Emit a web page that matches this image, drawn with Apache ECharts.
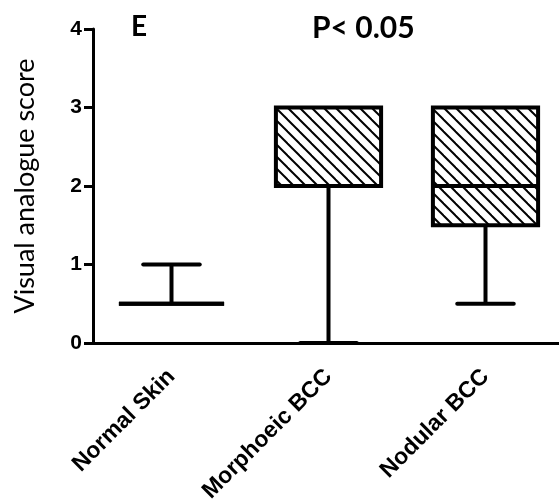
<!DOCTYPE html>
<html>
<head>
<meta charset="utf-8">
<script src="https://cdn.jsdelivr.net/npm/echarts@6/dist/echarts.min.js"></script>
<style>
html,body{margin:0;padding:0;background:#fff;}
#chart{width:559px;height:500px;}
</style>
</head>
<body>
<div id="chart"></div>
<script>
// ---- data ----
const categories = ['Normal Skin', 'Morphoeic BCC', 'Nodular BCC'];
const minVals    = [0.5, 0,   0.5];
const q1Vals     = [0.5, 2,   1.5];
const medianVals = [0.5, 2,   2];
const q3Vals     = [0.5, 3,   3];
const maxVals    = [1,   3,   3];
const yTicks     = [0, 1, 2, 3, 4];
const yAxisName  = 'Visual analogue score';
const panelLabel = 'E';
const pLabel     = 'P< 0.05';

function makeHatch() {
  const s = 12;
  const c = document.createElement('canvas');
  c.width = s; c.height = s;
  const ctx = c.getContext('2d');
  ctx.fillStyle = '#fff';
  ctx.fillRect(0, 0, s, s);
  ctx.strokeStyle = '#000';
  ctx.lineWidth = 2;
  for (let k = -1; k <= 1; k++) {
    ctx.beginPath();
    ctx.moveTo(k * s - 1, -1);
    ctx.lineTo(k * s + s + 1, s + 1);
    ctx.stroke();
  }
  return c;
}
const hatch = { image: makeHatch(), repeat: 'repeat' };

const seriesData = categories.map((c, i) => [i, minVals[i], q1Vals[i], medianVals[i], q3Vals[i], maxVals[i]]);

const chart = echarts.init(document.getElementById('chart'), null, { renderer: 'canvas' });

const LW = 4;
function renderItem(params, api) {
  const idx = api.value(0);
  const vMin = api.value(1), vQ1 = api.value(2), vMed = api.value(3), vQ3 = api.value(4), vMax = api.value(5);
  const band = api.size([1, 0])[0];
  const boxW = band * 0.67;
  const capW = band * 0.36;
  const pMin = api.coord([idx, vMin]);
  const pQ1 = api.coord([idx, vQ1]);
  const pMed = api.coord([idx, vMed]);
  const pQ3 = api.coord([idx, vQ3]);
  const pMax = api.coord([idx, vMax]);
  const x = pMed[0];
  const lineStyle = { stroke: '#000', lineWidth: LW, fill: null };
  const children = [];
  if (pMin[1] !== pQ1[1]) {
    children.push({ type: 'line', shape: { x1: x, y1: pQ1[1], x2: x, y2: pMin[1] }, style: lineStyle });
    children.push({ type: 'line', shape: { x1: x - capW / 2, y1: pMin[1], x2: x + capW / 2, y2: pMin[1] }, style: Object.assign({}, lineStyle, { lineCap: 'round' }) });
  }
  if (pMax[1] !== pQ3[1]) {
    children.push({ type: 'line', shape: { x1: x, y1: pQ3[1], x2: x, y2: pMax[1] }, style: lineStyle });
    children.push({ type: 'line', shape: { x1: x - capW / 2, y1: pMax[1], x2: x + capW / 2, y2: pMax[1] }, style: Object.assign({}, lineStyle, { lineCap: 'round' }) });
  }
  children.push({
    type: 'rect',
    shape: { x: x - boxW / 2, y: pQ3[1], width: boxW, height: pQ1[1] - pQ3[1] },
    style: { fill: hatch, stroke: '#000', lineWidth: LW }
  });
  children.push({ type: 'line', shape: { x1: x - boxW / 2, y1: pMed[1], x2: x + boxW / 2, y2: pMed[1] }, style: lineStyle });
  return { type: 'group', children: children };
}

chart.setOption({
  backgroundColor: '#fff',
  animation: false,
  grid: { left: 93, top: 29, width: 471, height: 314, containLabel: false, outerBoundsMode: 'none' },
  title: [
    { text: panelLabel, left: 126, top: 8, textStyle: { fontFamily: 'Lato', fontWeight: 'bold', fontSize: 28, color: '#000' } },
    { text: pLabel, left: 307, top: 8, textStyle: { fontFamily: 'Lato', fontWeight: 'bold', fontSize: 30, color: '#000' } }
  ],
  xAxis: {
    type: 'category',
    data: categories,
    z: 10,
    axisLine: { lineStyle: { color: '#000', width: 3 } },
    axisTick: { alignWithLabel: true, length: 9, lineStyle: { color: '#000', width: 3 } },
    axisLabel: { rotate: 45, margin: 30, interval: 0, fontFamily: 'Liberation Sans', fontWeight: 'bold', fontSize: 23, color: '#000' },
    splitLine: { show: false }
  },
  yAxis: {
    type: 'value',
    min: yTicks[0], max: yTicks[yTicks.length - 1], interval: 1,
    name: yAxisName,
    nameLocation: 'middle',
    nameGap: 54,
    nameTextStyle: { fontFamily: 'Lato', fontSize: 27, color: '#000' },
    axisLine: { show: true, lineStyle: { color: '#000', width: 3 } },
    axisTick: { show: true, length: 9, lineStyle: { color: '#000', width: 3 } },
    axisLabel: { margin: 11, fontFamily: 'Liberation Sans', fontWeight: 'bold', fontSize: 21, color: '#000' },
    splitLine: { show: false }
  },
  series: [{
    type: 'custom',
    renderItem: renderItem,
    data: seriesData,
    encode: { x: 0, y: [1, 2, 3, 4, 5] },
    clip: false
  }]
});
</script>
</body>
</html>
